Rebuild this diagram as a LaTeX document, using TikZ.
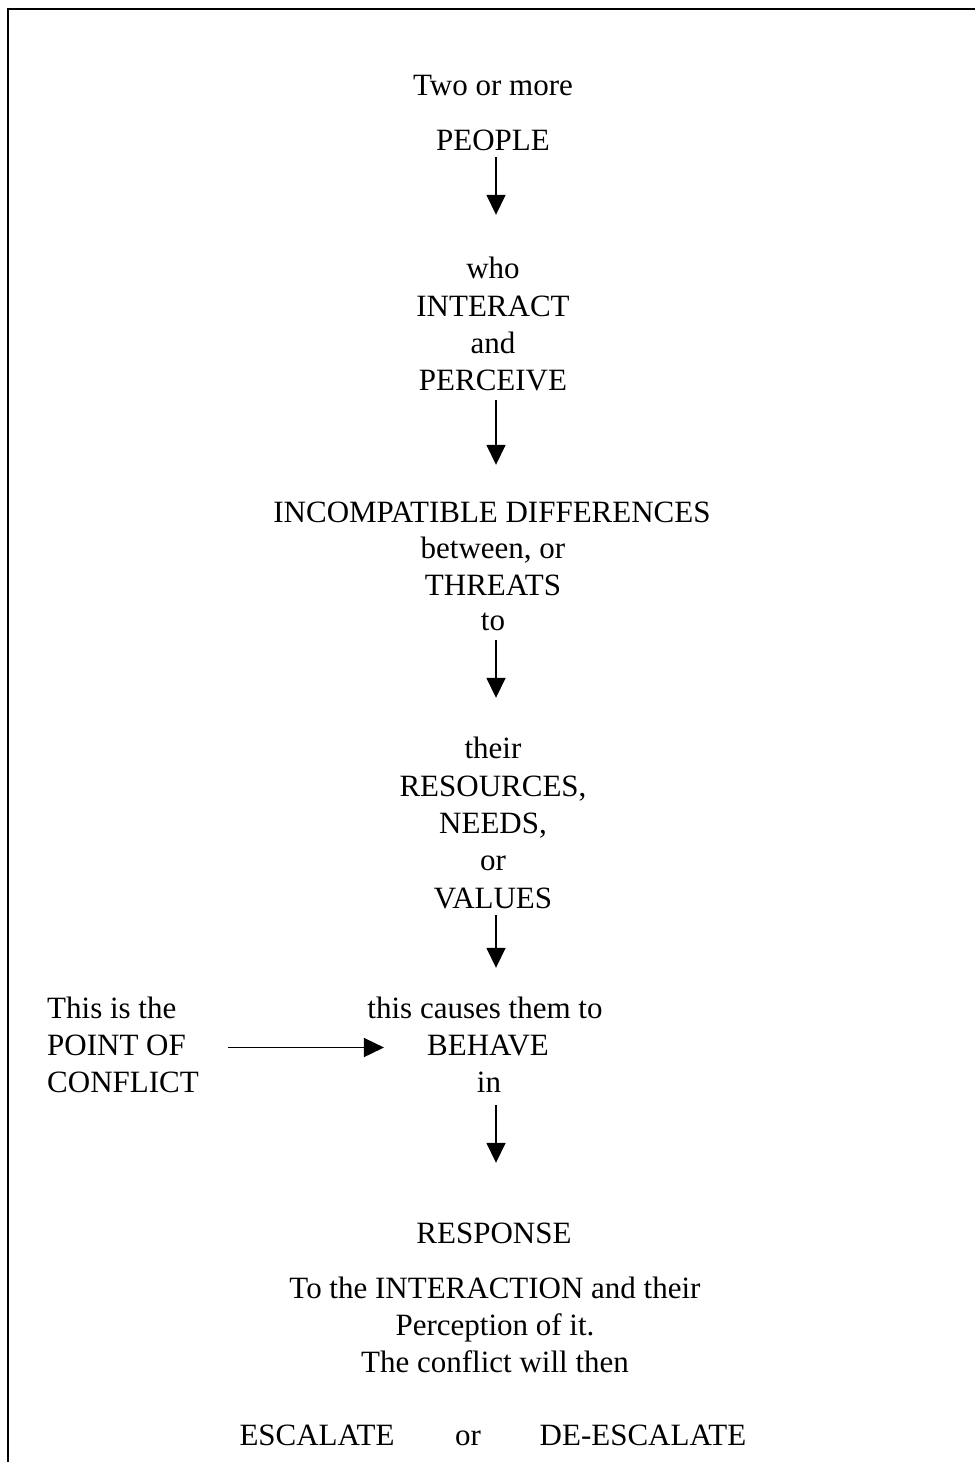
\documentclass[tikz,border=0pt]{standalone}
\usepackage{fontspec}
\setmainfont{Liberation Serif}
\usetikzlibrary{arrows.meta}

\begin{document}
\begin{tikzpicture}[x=1pt, y=-1pt,
  txt/.style={inner sep=0pt, text height=22pt, text depth=7pt, anchor=base,
              font=\fontsize{31}{37.4}\selectfont},
  ltxt/.style={txt, anchor=base west},
  arr/.style={line width=1.6pt, -{Triangle[length=20pt, width=19pt]}},
  frame/.style={line width=1.6pt}]

% page and frame
\useasboundingbox (0,0) rectangle (975,1462);
\draw[frame] (8,1462) -- (8,9) -- (975,9);

% main column
\node[txt] (two)      at (493,95)  {Two or more};
\node[txt] (people)   at (493,150) {PEOPLE};

\node[txt] (who)      at (493,278) {who};
\node[txt] (interact) at (493,316) {INTERACT};
\node[txt] (and)      at (493,353) {and};
\node[txt] (perceive) at (493,390) {PERCEIVE};

\node[txt] (incomp)   at (492,522) {INCOMPATIBLE DIFFERENCES};
\node[txt] (between)  at (493,558) {between, or};
\node[txt] (threats)  at (493,595) {THREATS};
\node[txt] (to)       at (493,630) {to};

\node[txt] (their)    at (493,758) {their};
\node[txt] (resources) at (493,796) {RESOURCES,};
\node[txt] (needs)    at (493,833) {NEEDS,};
\node[txt] (or)       at (493,870) {or};
\node[txt] (values)   at (493,908) {VALUES};

\node[txt] (causes)   at (485,1018) {this causes them to};
\node[txt] (behave)   at (488,1055) {BEHAVE};
\node[txt] (in)       at (489,1092) {in};

\node[ltxt] (thisis)  at (47,1018) {This is the};
\node[ltxt] (pointof) at (47,1055) {POINT OF};
\node[ltxt] (conflict) at (47,1092) {CONFLICT};

\node[txt] (response) at (494,1243) {RESPONSE};
\node[txt] (tothe)    at (495,1298) {To the INTERACTION and their};
\node[txt] (percep)   at (495,1335) {Perception of it.};
\node[txt] (willthen) at (495,1372) {The conflict will then};

\node[txt] (escalate)   at (317,1445) {ESCALATE};
\node[txt] (orlast)     at (468,1445) {or};
\node[txt] (deescalate) at (643,1445) {DE-ESCALATE};

% connectors
\draw[arr, shorten >=41pt] ([xshift=3pt]people.south) -- ([xshift=3pt]who.north);
\draw[arr, shorten <=3pt, shorten >=35pt] ([xshift=3pt]perceive.south) -- ([xshift=4pt]incomp.north);
\draw[arr, shorten <=3pt, shorten >=38pt] ([xshift=3pt]to.south) -- ([xshift=3pt]their.north);
\draw[arr, shorten >=28pt] ([xshift=3pt]values.south) -- ([xshift=11pt]causes.north);
\draw[arr, shorten <=6pt, shorten >=58pt] ([xshift=7pt]in.south) -- ([xshift=2pt]response.north);
\draw[arr, shorten <=42pt, shorten >=43pt] (pointof.east) -- (behave.west);
\end{tikzpicture}
\end{document}
